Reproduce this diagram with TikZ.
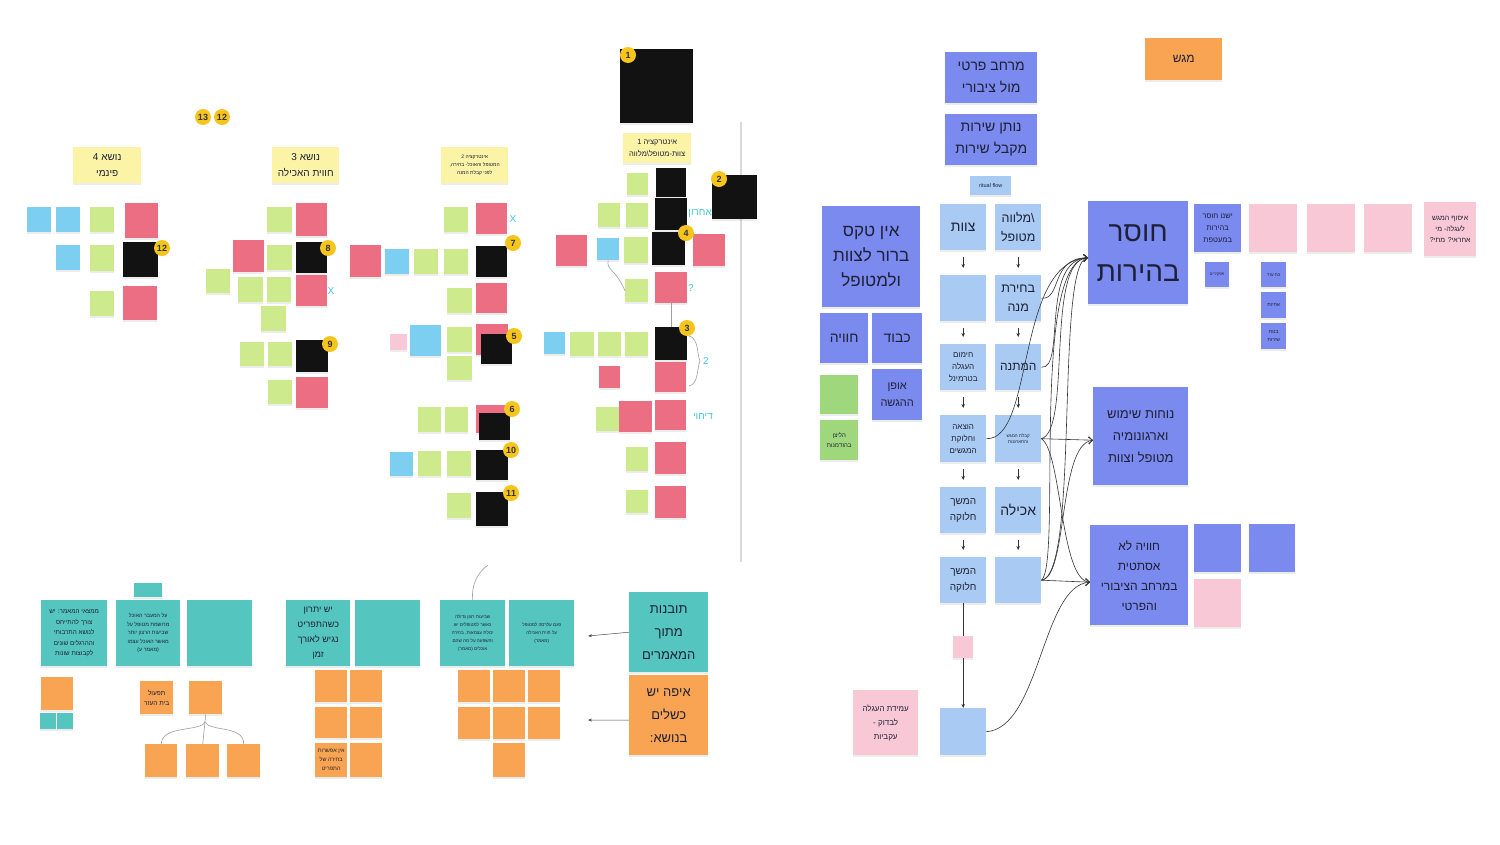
\documentclass[tikz,border=0pt]{standalone}
\usepackage{fontspec}
\setmainfont{Liberation Sans}[Script=Hebrew]
\TeXXeTstate=1
\usetikzlibrary{shadows,arrows.meta}
\definecolor{bigblue}{HTML}{7B8AEF}
\definecolor{lblue}{HTML}{A9CBF3}
\definecolor{sblue}{HTML}{7DCFF1}
\definecolor{grn}{HTML}{CDEA8C}
\definecolor{grnr}{HTML}{9FD87C}
\definecolor{rednote}{HTML}{EB6E82}
\definecolor{pinknote}{HTML}{F8C8D6}
\definecolor{ylw}{HTML}{FBF3A6}
\definecolor{tealn}{HTML}{55C6BF}
\definecolor{orng}{HTML}{F9A452}
\definecolor{blk}{HTML}{121212}
\definecolor{numy}{HTML}{F5C51E}
\definecolor{cyanl}{HTML}{40C8D6}
\definecolor{navy}{HTML}{1E2035}
\newcommand\fs[2]{\fontsize{#1}{#2}\selectfont}
\newcommand\hb[1]{\beginR #1\endR}
\newcommand\stk[8][]{\node[note,fill=#3,minimum width=#6pt,minimum height=#7pt,#1] (#2) at (#4,#5) {#8};}
\newcommand\numc[4]{\node[numst] (#1) at (#2,#3) {#4};}
\begin{document}
\begin{tikzpicture}[x=1pt,y=-1pt,
 note/.style={anchor=north west, inner sep=1pt, align=center, text=navy,
   drop shadow={shadow xshift=0pt,shadow yshift=-2pt,opacity=0.15}},
 numst/.style={circle, fill=numy, inner sep=0pt, minimum size=16pt, font=\bfseries\fs{9}{9}, text=black!80},
 cy/.style={text=cyanl, font=\fs{10}{10}, inner sep=0pt},
 flow/.style={-{Stealth[length=4pt,width=3.5pt]}, black!80, line width=0.7pt},
 crv/.style={-{Straight Barb[length=4pt,width=7pt]}, black!80, line width=0.6pt},
 thinl/.style={gray!75, line width=0.6pt}]
\fill[white] (0,0) rectangle (1500,844);
\useasboundingbox (0,0) rectangle (1500,844);

% divider
\coordinate (dv1) at (741,122);
\coordinate (dv2) at (741,562);
\draw[gray!30, line width=1.2pt] (dv1) -- (dv2);

%================ RIGHT SECTION =================
\stk[font=\fs{12}{14}]{tray}{orng}{1145}{38}{77}{42}{\hb{מגש}}
\stk[font=\fs{14}{22}]{rp}{bigblue}{945}{52}{92}{51}{\hb{מרחב פרטי}\\\hb{מול ציבורי}}
\stk[font=\fs{14}{22}]{ns}{bigblue}{945}{114}{92}{51}{\hb{נותן שירות}\\\hb{מקבל שירות}}
\stk[font=\fs{5.5}{6}]{rf}{lblue}{970}{176}{41}{19}{ritual flow}

\stk[font=\fs{14}{18}]{f1L}{lblue}{940}{204}{46}{46}{\hb{צוות}}
\stk[font=\fs{12.5}{19}]{f1R}{lblue}{995}{204}{46}{46}{\hb{מלווה}\textbackslash\\\hb{מטופל}}
\stk{f2L}{lblue}{940}{275}{46}{46}{}
\stk[font=\fs{12.5}{19}]{f2R}{lblue}{995}{275}{46}{46}{\hb{בחירת}\\\hb{מנה}}
\stk[font=\fs{8}{12}]{f3L}{lblue}{940}{344}{46}{46}{\hb{חימום}\\\hb{העגלה}\\\hb{בטרמינל}}
\stk[font=\fs{12}{14}]{f3R}{lblue}{995}{344}{46}{46}{\hb{המתנה}}
\stk[font=\fs{8}{12}]{f4L}{lblue}{940}{415}{46}{47}{\hb{הוצאה}\\\hb{וחלוקת}\\\hb{המגשים}}
\stk[font=\fs{4.5}{6}]{f4R}{lblue}{995}{415}{46}{47}{\hb{קבלת המגש}\\\hb{והתארגנות}}
\stk[font=\fs{10}{16}]{f5L}{lblue}{940}{487}{46}{46}{\hb{המשך}\\\hb{חלוקה}}
\stk[font=\fs{14}{18}]{f5R}{lblue}{995}{487}{46}{46}{\hb{אכילה}}
\stk[font=\fs{10}{16}]{f6L}{lblue}{940}{557}{46}{46}{\hb{המשך}\\\hb{חלוקה}}
\stk{f6R}{lblue}{995}{557}{46}{46}{}
\stk{pk}{pinknote}{953}{636}{20}{22}{}
\stk{fb}{lblue}{940}{708}{46}{47}{}

\foreach \a/\b in {f1L/f2L,f2L/f3L,f3L/f4L,f4L/f5L,f5L/f6L,f1R/f2R,f2R/f3R,f3R/f4R,f4R/f5R,f5R/f6R}
  \draw[flow] ([yshift=-7pt]\a.south) -- ([yshift=7pt]\b.north);
\draw[black!80, line width=0.6pt] (f6L.south) -- (pk.north);
\draw[flow] (pk.south) -- (fb.north);

\stk[font=\fs{17}{25}]{nt}{bigblue}{822}{206}{98}{101}{\hb{אין טקס}\\\hb{ברור לצוות}\\\hb{ולמטופל}}
\stk[font=\fs{14}{18}]{kv}{bigblue}{872}{313}{50}{50}{\hb{כבוד}}
\stk[font=\fs{14}{18}]{hv}{bigblue}{820}{313}{48}{50}{\hb{חוויה}}
\stk[font=\fs{11}{17}]{og}{bigblue}{872}{369}{50}{51}{\hb{אופן}\\\hb{ההגשה}}
\stk{g1}{grnr}{820}{375}{38}{39}{}
\stk[font=\fs{6}{10}]{g2}{grnr}{820}{420}{38}{40}{\hb{הליצן}\\\hb{בהזדמנות}}
\stk[font=\fs{8}{14}]{pk2}{pinknote}{853}{690}{65}{65}{\hb{עמידת העגלה}\\\hb{לבדוק -}\\\hb{עקביות}}

\stk[font=\fs{28}{40}]{hbr}{bigblue}{1088}{201}{100}{103}{\hb{חוסר}\\\hb{בהירות}}
\stk[font=\fs{7.5}{12}]{hb1}{bigblue}{1194}{204}{47}{48}{\hb{ישנו חוסר}\\\hb{בהירות}\\\hb{במעטפת}}
\stk[font=\fs{4}{5}]{tp}{bigblue}{1205}{262}{24}{25}{\hb{תפקידים}}
\stk{p1}{pinknote}{1249}{204}{48}{48}{}
\stk{p2}{pinknote}{1307}{204}{48}{48}{}
\stk{p3}{pinknote}{1364}{204}{48}{48}{}
\stk[font=\fs{7}{11}]{p4}{pinknote}{1424}{202}{52}{54}{\hb{איסוף המגש}\\\hb{לעגלה- מי}\\\hb{אחראי? מתי?}}
\stk[font=\fs{4.5}{5}]{ke}{bigblue}{1261}{262}{25}{25}{\hb{כח עזר}}
\stk[font=\fs{5}{6}]{ah}{bigblue}{1261}{292}{25}{26}{\hb{אחיות}}
\stk[font=\fs{5}{8}]{bs}{bigblue}{1261}{323}{25}{26}{\hb{בנות}\\\hb{שירות}}
\stk[font=\fs{13}{22}]{nv}{bigblue}{1093}{387}{95}{98}{\hb{נוחות שימוש}\\\hb{וארגונומיה}\\\hb{מטופל וצוות}}
\stk[font=\fs{12}{20}]{ha}{bigblue}{1090}{525}{98}{100}{\hb{חוויה לא}\\\hb{אסתטית}\\\hb{במרחב הציבורי}\\\hb{והפרטי}}
\stk{hb2}{bigblue}{1194}{524}{47}{48}{}
\stk{hb3}{bigblue}{1249}{524}{46}{48}{}
\stk{pk3}{pinknote}{1194}{579}{47}{48}{}

% curved connectors
\draw[crv] (f2R.east) .. controls (1062,300) and (1050,258) .. ([yshift=-5pt]hbr.west);
\draw[crv] (f3R.east) .. controls (1066,370) and (1040,260) .. ([yshift=-5pt]hbr.west);
\draw[crv] (f4L.east) .. controls (1035,440) and (1015,262) .. ([yshift=-5pt]hbr.west);
\draw[crv] (f4R.east) .. controls (1072,430) and (1045,260) .. ([yshift=-5pt]hbr.west);
\draw[crv] (f6R.east) .. controls (1080,575) and (1055,262) .. ([yshift=-5pt]hbr.west);
\draw[crv] (f6R.east) .. controls (1062,565) and (1030,262) .. ([yshift=-5pt]hbr.west);
\draw[crv] (f4R.east) -- ([yshift=-4pt]nv.west);
\draw[crv] (f6R.east) .. controls (1068,578) and (1058,444) .. ([yshift=-4pt]nv.west);
\draw[crv] (f4R.east) .. controls (1062,452) and (1060,580) .. ([yshift=-7pt]ha.west);
\draw[crv] (f6R.east) -- ([yshift=-7pt]ha.west);
\draw[crv] (fb.east) .. controls (1040,728) and (1042,585) .. ([yshift=-7pt]ha.west);

%================ LEFT SECTION =================
% headers
\stk[font=\fs{10}{16}]{h4}{ylw}{73}{147}{68}{36}{\hb{נושא 4}\\\hb{פינמי}}
\stk[font=\fs{10}{16}]{h3}{ylw}{272}{147}{67}{36}{\hb{נושא 3}\\\hb{חווית האכילה}}
\stk[font=\fs{5}{8}]{h2}{ylw}{441}{147}{67}{36}{\hb{אינטרקציה 2}\\\hb{המטופל והאוכל- בחירה,}\\\hb{לפני קבלת המנה}}
\stk[font=\fs{7.5}{12}]{h1}{ylw}{623}{133}{68}{30}{\hb{אינטרקציה 1}\\\hb{צוות-מטופל\textbackslash מלווה}}

% black notes
\stk{b1}{blk}{620}{49}{73}{74}{}
\stk{b2}{blk}{712}{175}{45}{44}{}
\stk{b1a}{blk}{656}{168}{30}{29}{}
\stk{b1b}{blk}{655}{198}{32}{32}{}
\node[cy, anchor=east] (achr) at (712,213) {\hb{אחרון}};
\stk{b4}{blk}{652}{232}{33}{33}{}
\stk{b3}{blk}{655}{327}{32}{33}{}
\stk{r5}{rednote}{476}{324}{32}{31}{}
\stk{b5}{blk}{481}{334}{31}{30}{}
\stk{r6}{rednote}{476}{405}{32}{28}{}
\stk{b6}{blk}{479}{413}{31}{27}{}
\stk{b7}{blk}{476}{246}{31}{31}{}
\stk{b8}{blk}{296}{242}{31}{31}{}
\stk{b9}{blk}{296}{340}{32}{32}{}
\stk{b10}{blk}{476}{450}{32}{30}{}
\stk{b11}{blk}{476}{492}{32}{34}{}
\stk{b12}{blk}{123}{242}{35}{35}{}

% red notes
\stk{ra1}{rednote}{125}{203}{33}{35}{}
\stk{ra2}{rednote}{123}{286}{34}{34}{}
\stk{rb1}{rednote}{296}{203}{31}{33}{}
\stk{rb2}{rednote}{233}{240}{31}{32}{}
\stk{rb3}{rednote}{296}{275}{31}{31}{}
\stk{rb4}{rednote}{296}{377}{32}{31}{}
\stk{rc1}{rednote}{476}{203}{31}{31}{}
\stk{rc2}{rednote}{350}{245}{31}{32}{}
\stk{rc3}{rednote}{476}{283}{31}{30}{}
\stk{rd1}{rednote}{556}{235}{31}{31}{}
\stk{rd2}{rednote}{693}{234}{32}{32}{}
\stk{rd3}{rednote}{655}{272}{32}{31}{}
\stk{rd4}{rednote}{655}{362}{31}{30}{}
\stk{rd5}{rednote}{599}{366}{21}{22}{}
\stk{rd6}{rednote}{619}{401}{33}{31}{}
\stk{rd7}{rednote}{655}{400}{31}{30}{}
\stk{rd8}{rednote}{655}{442}{31}{32}{}
\stk{rd9}{rednote}{655}{486}{31}{32}{}

% green notes
\stk{ga1}{grn}{90}{207}{24}{25}{}
\stk{ga2}{grn}{90}{245}{24}{26}{}
\stk{ga3}{grn}{90}{291}{24}{25}{}
\stk{gb1}{grn}{267}{207}{25}{25}{}
\stk{gb2}{grn}{267}{245}{25}{25}{}
\stk{gb3}{grn}{206}{269}{24}{24}{}
\stk{gb4}{grn}{238}{277}{25}{25}{}
\stk{gb5}{grn}{267}{277}{24}{25}{}
\stk{gb6}{grn}{261}{306}{25}{25}{}
\stk{gb7}{grn}{240}{342}{24}{24}{}
\stk{gb8}{grn}{268}{342}{24}{24}{}
\stk{gb9}{grn}{268}{380}{24}{24}{}
\stk{gc1}{grn}{444}{207}{24}{25}{}
\stk{gc2}{grn}{414}{249}{24}{25}{}
\stk{gc3}{grn}{444}{249}{24}{25}{}
\stk{gc4}{grn}{447}{288}{25}{25}{}
\stk{gc5}{grn}{447}{327}{25}{25}{}
\stk{gc6}{grn}{447}{356}{25}{24}{}
\stk{gc7}{grn}{418}{407}{23}{25}{}
\stk{gc8}{grn}{445}{407}{23}{25}{}
\stk{gc9}{grn}{418}{451}{23}{25}{}
\stk{gc10}{grn}{447}{451}{24}{25}{}
\stk{gc11}{grn}{447}{493}{24}{25}{}
\stk{gd1}{grn}{627}{173}{21}{22}{}
\stk{gd2}{grn}{598}{203}{22}{24}{}
\stk{gd3}{grn}{626}{203}{22}{24}{}
\stk{gd4}{grn}{624}{237}{24}{26}{}
\stk{gd5}{grn}{625}{279}{23}{23}{}
\stk{gd6}{grn}{570}{332}{24}{24}{}
\stk{gd7}{grn}{598}{332}{23}{24}{}
\stk{gd8}{grn}{625}{332}{23}{24}{}
\stk{gd9}{grn}{596}{407}{23}{24}{}
\stk{gd10}{grn}{626}{447}{22}{24}{}
\stk{gd11}{grn}{626}{490}{22}{23}{}

% blue / pink small notes
\stk{sa1}{sblue}{27}{207}{24}{25}{}
\stk{sa2}{sblue}{56}{207}{24}{25}{}
\stk{sa3}{sblue}{56}{245}{24}{25}{}
\stk{sc1}{sblue}{385}{249}{24}{25}{}
\stk{sc2}{sblue}{410}{325}{31}{31}{}
\stk{sc3}{sblue}{390}{452}{23}{24}{}
\stk{pc1}{pinknote}{390}{334}{17}{16}{}
\stk{sd1}{sblue}{597}{238}{22}{22}{}
\stk{sd2}{sblue}{544}{332}{21}{22}{}

% connectors in interaction 1
\draw[thinl] (sd1.south) .. controls (606,270) and (615,268) .. (gd5.west);
\draw[thinl] (rd3.south) -- (b3.north);
\coordinate (br1) at (689,336);
\coordinate (br2) at (689,386);
\draw[thinl] (br1) .. controls (699,338) and (697,356) .. (700,361) .. controls (697,366) and (699,384) .. (br2);

% cyan marks
\node[cy] (x1) at (513,219) {X};
\node[cy] (x2) at (331,291) {X};
\node[cy] (q1) at (691,288) {?};
\node[cy] (t2) at (706,361) {2};
\node[cy] (dh) at (703,416) {\hb{דיחוי}};

% numbers
\numc{n1}{628}{55}{1}
\numc{n2}{719}{179}{2}
\numc{n3}{687}{328}{3}
\numc{n4}{686}{233}{4}
\numc{n5}{514}{336}{5}
\numc{n6}{512}{409}{6}
\numc{n7}{513}{243}{7}
\numc{n8}{328}{248}{8}
\numc{n9}{330}{344}{9}
\numc{n10}{511}{450}{10}
\numc{n11}{511}{493}{11}
\numc{n12}{162}{248}{12}
\numc{n13}{203}{117}{13}
\numc{n12b}{222}{117}{12}

%================ BOTTOM LEFT =================
\stk[font=\fs{13}{23}]{ins}{tealn}{629}{592}{79}{80}{\hb{תובנות}\\\hb{מתוך}\\\hb{המאמרים}}
\stk[font=\fs{13}{23}]{fail}{orng}{629}{675}{79}{80}{\hb{איפה יש}\\\hb{כשלים}\\\hb{בנושא:}}
\coordinate (ai) at (588,636);
\coordinate (af) at (588,720);
\draw[-{Stealth[length=4pt,width=3pt]}, black!70, line width=0.5pt] (ins.west) -- (ai);
\draw[-{Stealth[length=4pt,width=3pt]}, black!70, line width=0.5pt] ([yshift=-5pt]fail.west) -- (af);

\stk[font=\fs{6.3}{10.5}]{tA}{tealn}{41}{600}{66}{66}{\hb{ממצאי המאמר: יש}\\\hb{צורך להתייחס}\\\hb{לנושא התרבותי}\\\hb{וההרגלים שונים}\\\hb{לקבוצות שונות}}
\stk[font=\fs{5.3}{8.5}]{tB}{tealn}{116}{600}{64}{66}{\hb{על המעבר האוכל}\\\hb{מרושמת מטופל על}\\\hb{שביעות הרצון יותר}\\\hb{מאשר האוכל עצמו}\\\hb{(מאמר ע)}}
\stk{tC}{tealn}{187}{600}{65}{66}{}
\stk[font=\fs{9}{15}]{tD}{tealn}{286}{600}{64}{66}{\hb{יש יתרון}\\\hb{כשהתפריט}\\\hb{נגיש לאורך}\\\hb{זמן}}
\stk{tE}{tealn}{355}{600}{65}{66}{}
\stk[font=\fs{4.6}{8}]{tF}{tealn}{440}{600}{65}{66}{\hb{שביעות רצון גדולה}\\\hb{כאשר למטופלים יש}\\\hb{יכולת עצמאות, בחירה}\\\hb{והשפעה על מה שהם}\\\hb{אוכלים (מאמר)}}
\stk[font=\fs{4.6}{8}]{tG}{tealn}{509}{600}{65}{66}{\hb{פגם עלרסה למטופל}\\\hb{על חוית האכילה}\\\hb{(מאמר)}}
\stk{tag}{tealn}{134}{583}{28}{14}{}
\coordinate (cv) at (488,565);
\draw[thinl] (tF.north) .. controls (471,585) and (478,572) .. (cv);

\stk{oa1}{orng}{41}{677}{32}{33}{}
\stk{ta1}{tealn}{40}{713}{16}{16}{}
\stk{ta2}{tealn}{57}{713}{16}{16}{}
\stk[font=\fs{6.5}{10}]{ob1}{orng}{140}{681}{33}{33}{\hb{תפעול}\\\hb{בית העזר}}
\stk{ob2}{orng}{189}{681}{33}{33}{}
\stk{ob3}{orng}{145}{744}{32}{33}{}
\stk{ob4}{orng}{186}{744}{33}{33}{}
\stk{ob5}{orng}{227}{744}{33}{33}{}
\coordinate (bj) at (205,722);
\draw[thinl] (ob2.south) -- (bj);
\draw[thinl] (bj) .. controls (200,732) and (162,725) .. (ob3.north);
\draw[thinl] (bj) -- (ob4.north);
\draw[thinl] (bj) .. controls (210,732) and (244,725) .. (ob5.north);

\stk{od1}{orng}{315}{670}{32}{32}{}
\stk{od2}{orng}{350}{670}{32}{32}{}
\stk{od3}{orng}{315}{707}{32}{31}{}
\stk{od4}{orng}{350}{707}{32}{31}{}
\stk[font=\fs{5.5}{9}]{od5}{orng}{315}{743}{32}{34}{\hb{אין אפשרות}\\\hb{בחירה של}\\\hb{התפריט}}
\stk{od6}{orng}{350}{743}{32}{34}{}
\stk{of1}{orng}{458}{670}{32}{32}{}
\stk{of2}{orng}{493}{670}{32}{32}{}
\stk{of3}{orng}{528}{670}{32}{32}{}
\stk{of4}{orng}{458}{707}{32}{32}{}
\stk{of5}{orng}{493}{707}{32}{32}{}
\stk{of6}{orng}{528}{707}{32}{32}{}
\stk{of7}{orng}{493}{743}{32}{34}{}
\end{tikzpicture}
\end{document}
